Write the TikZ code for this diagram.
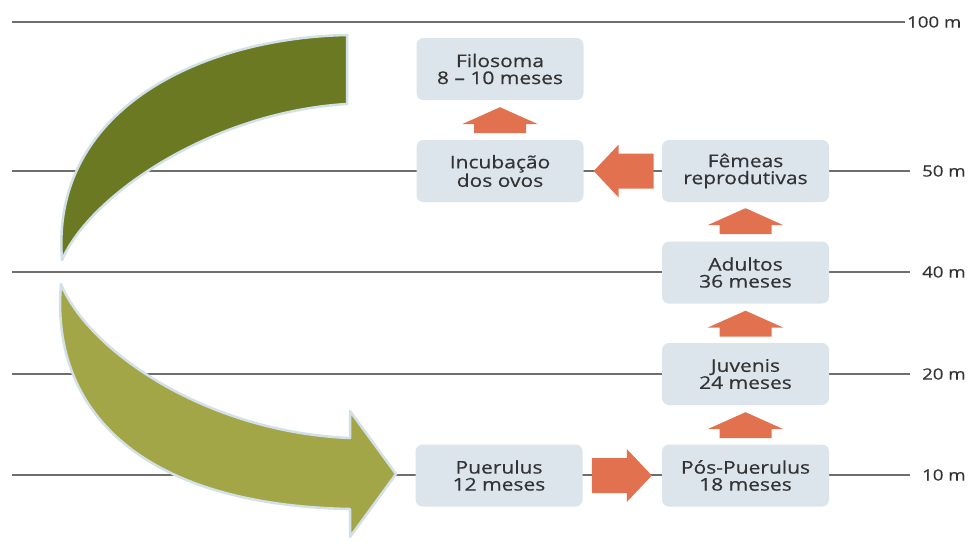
\documentclass[tikz,border=0pt]{standalone}
\usepackage{fontspec}
\setmainfont{Open Sans}[FakeStretch=1.2, FakeBold=0.5]
\usetikzlibrary{calc}

\definecolor{boxfill}{HTML}{DCE5EC}
\definecolor{textgray}{HTML}{333333}
\definecolor{rulegray}{HTML}{6E6E6E}
\definecolor{coral}{HTML}{E2714F}
\definecolor{olivedark}{HTML}{6B7A22}
\definecolor{olivelight}{HTML}{A2A646}
\definecolor{glow}{HTML}{D3E0E8}

% upward block arrow, tip at #1
\newcommand\uparrowblock[1]{%
  \fill[coral] (#1) -- ++(38,17) -- ++(-12,0) -- ++(0,9) -- ++(-52,0)
    -- ++(0,-9) -- ++(-12,0) -- cycle;}
% horizontal block arrow, tip at #1, direction #2 (1 = right, -1 = left)
\newcommand\sidearrowblock[2]{%
  \fill[coral] (#1) -- ++(-25*#2,-26.5) -- ++(0,9) -- ++(-35*#2,0)
    -- ++(0,35) -- ++(35*#2,0) -- ++(0,9) -- cycle;}

\begin{document}
\begin{tikzpicture}[x=1pt,y=-1pt,
  stage/.style={fill=boxfill, rounded corners=7pt, minimum width=167pt,
    minimum height=62pt, inner sep=0pt, align=center, text=textgray,
    font=\fontsize{17.5}{17}\selectfont},
  depth/.style={text=textgray, font=\fontsize{15.5}{15.5}\selectfont,
    anchor=west, inner sep=0pt},
  rule/.style={rulegray, line width=1.4pt},
  band/.style={draw=glow, line width=2.5pt, line join=round}]

\useasboundingbox[fill=white] (0,0) rectangle (971,547);

% depth scale
\node[depth] (d100) at (907,22) {100 m};
\node[depth] (d50) at (922,171) {50 m};
\node[depth] (d40) at (922,272) {40 m};
\node[depth] (d20) at (922,374) {20 m};
\node[depth] (d10) at (922,475) {10 m};
\coordinate (r100) at (12,22);
\coordinate (r50) at (12,171);
\coordinate (r40) at (12,272);
\coordinate (r20) at (12,374);
\coordinate (r10) at (12,475);
\draw[rule] (r100) -- ($(d100.west)+(-2,0)$);
\draw[rule] (r50) -- ($(d50.west)+(-12,0)$);
\draw[rule] (r40) -- ($(d40.west)+(-12,0)$);
\draw[rule] (r20) -- ($(d20.west)+(-12,0)$);
\draw[rule] (r10) -- ($(d10.west)+(-12,0)$);

% migration arrow: offshore (dark) and return (light)
\path[band, fill=olivedark] (347,35) .. controls (200,38) and (50,110) .. (62,260)
  .. controls (90,195) and (212,112) .. (347,104) -- cycle;
\path[band, fill=olivelight] (61,284) .. controls (50,410) and (140,505) .. (350,509)
  -- (350,537) -- (396,474) -- (350,411) -- (350,438)
  .. controls (205,432) and (88,350) .. (61,284) -- cycle;

% life stages
\node[stage] (filo) at (500,69) {Filosoma\\8 -- 10 meses};
\node[stage] (incub) at (500,171) {Incubação\\dos ovos};
\node[stage] (femeas) at (745.5,171) {Fêmeas\\reprodutivas};
\node[stage] (adult) at (745.5,272.5) {Adultos\\36 meses};
\node[stage] (juv) at (745.5,374) {Juvenis\\24 meses};
\node[stage] (pos) at (745.5,475.5) {Pós-Puerulus\\18 meses};
\node[stage] (pue) at (499,475.5) {Puerulus\\12 meses};

% transitions
\sidearrowblock{$(pos.west)+(-10,0)$}{1}
\uparrowblock{$(juv.south)+(0,7)$}
\uparrowblock{$(adult.south)+(0,7)$}
\uparrowblock{$(femeas.south)+(0,6)$}
\sidearrowblock{$(incub.east)+(10,0)$}{-1}
\uparrowblock{$(filo.south)+(0,7)$}
\end{tikzpicture}
\end{document}
